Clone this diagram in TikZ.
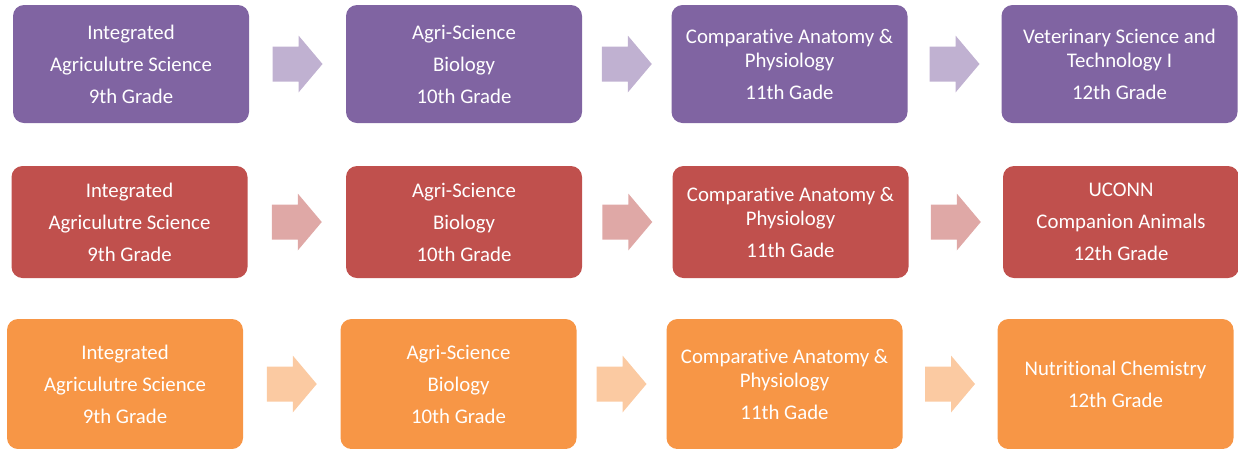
\documentclass[tikz,border=0pt]{standalone}
\usepackage{fontspec}
\setmainfont{Carlito}[Ligatures=NoCommon]
\usetikzlibrary{calc}
\definecolor{cpurple}{HTML}{8064A2}
\definecolor{cred}{HTML}{C0504D}
\definecolor{corange}{HTML}{F79646}
\tikzset{
  box/.style={rounded corners=11pt, minimum width=236pt, inner sep=0pt, text=white,
    align=center, font=\fontsize{20.8}{24}\selectfont},
  purplebox/.style={box, fill=cpurple, minimum height=118pt},
  redbox/.style={box, fill=cred, minimum height=112pt},
  orangebox/.style={box, fill=corange, minimum height=130pt},
  blockarr/.pic={\fill (-25,-17.5) -- (1,-17.5) -- (1,-28.5) -- (25,0) -- (1,28.5) -- (1,17.5) -- (-25,17.5) -- cycle;},
}
\newcommand{\pg}{\\[8pt]}
\begin{document}
\begin{tikzpicture}[x=1pt,y=-1pt]
\useasboundingbox (0,0) rectangle (1238,448);
% Row 1
\node[purplebox] (a1) at (131,64) {Integrated\pg Agriculutre Science\pg 9th Grade};
\node[purplebox] (a2) at (464,64) {Agri-Science\pg Biology\pg 10th Grade};
\node[purplebox] (a3) at (789.5,64) {Comparative Anatomy \&\\Physiology\pg 11th Gade};
\node[purplebox] (a4) at (1119.5,64) {Veterinary Science and\\Technology I\pg 12th Grade};
% Row 2
\node[redbox] (b1) at (129.5,222) {Integrated\pg Agriculutre Science\pg 9th Grade};
\node[redbox] (b2) at (464,222) {Agri-Science\pg Biology\pg 10th Grade};
\node[redbox] (b3) at (790.5,222) {Comparative Anatomy \&\\Physiology\pg 11th Gade};
\node[redbox] (b4) at (1121,222) {UCONN\pg Companion Animals\pg 12th Grade};
% Row 3
\node[orangebox] (c1) at (125,384) {Integrated\pg Agriculutre Science\pg 9th Grade};
\node[orangebox] (c2) at (458.5,384) {Agri-Science\pg Biology\pg 10th Grade};
\node[orangebox] (c3) at (784.5,384) {Comparative Anatomy \&\\Physiology\pg 11th Gade};
\node[orangebox] (c4) at (1115.5,384) {Nutritional Chemistry\pg 12th Grade};
% Arrows
\foreach \r/\col in {a/cpurple,b/cred,c/corange}{
  \coordinate (\r m1) at ($(\r1.east)!0.5!(\r2.west)$);
  \coordinate (\r m2) at ($(\r2.east)!0.5!(\r3.west)$);
  \coordinate (\r m3) at ($(\r3.east)!0.5!(\r4.west)$);
  \path (\r m1) pic[\col!50!white] {blockarr};
  \path (\r m2) pic[\col!50!white] {blockarr};
  \path (\r m3) pic[\col!50!white] {blockarr};
}
\end{tikzpicture}
\end{document}
